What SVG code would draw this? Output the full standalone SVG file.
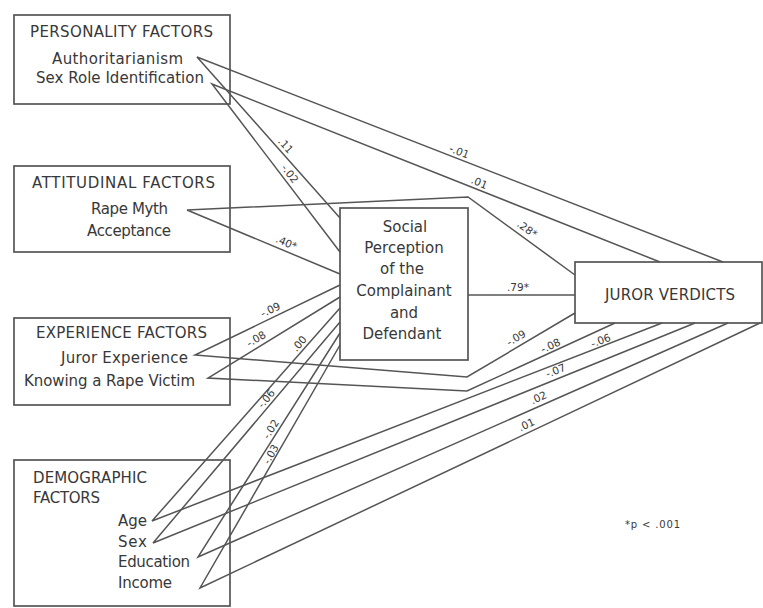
<svg xmlns="http://www.w3.org/2000/svg" width="763" height="608" viewBox="0 0 763 608">
<style>
.box{fill:none;stroke:#555;stroke-width:1.7}
.t{font-family:"DejaVu Sans","Liberation Sans",Arial,sans-serif;font-size:15px;fill:#383838}
.c{text-anchor:middle}
.ln{fill:none;stroke:#555;stroke-width:1.5;stroke-linejoin:miter}
.lb{font-family:"DejaVu Sans","Liberation Sans",Arial,sans-serif;font-size:10.5px;fill:#383838;text-anchor:middle}
</style>
<rect width="763" height="608" fill="#ffffff"/>

<g id="connectors">
<polyline class="ln" points="723,262 197,57 340,218"/>
<polyline class="ln" points="660,262 212,84 340,252"/>
<polyline class="ln" points="575,275 468,197 187,210 340,274"/>
<line class="ln" x1="468" y1="295" x2="575" y2="295"/>
<polyline class="ln" points="575,313 467,377 195,355 340,285"/>
<polyline class="ln" points="615,323 467,391 208,378 340,297"/>
<polyline class="ln" points="662,323 152,521 340,308"/>
<polyline class="ln" points="695,323 153,543 340,322"/>
<polyline class="ln" points="728,323 198,557 340,333"/>
<polyline class="ln" points="760,323 200,588 340,345"/>

<text class="lb" transform="translate(458,155) rotate(21)">-.01</text>
<text class="lb" transform="translate(478,186) rotate(22)">.01</text>
<text class="lb" transform="translate(283,148) rotate(48)">.11</text>
<text class="lb" transform="translate(287,176) rotate(53)">-.02</text>
<text class="lb" transform="translate(285,246) rotate(23)">.40*</text>
<text class="lb" transform="translate(525,232) rotate(36)">.28*</text>
<text class="lb" x="518" y="291">.79*</text>
<text class="lb" transform="translate(272,313) rotate(-26)">-.09</text>
<text class="lb" transform="translate(258,342) rotate(-31)">-.08</text>
<text class="lb" transform="translate(518,341) rotate(-31)">-.09</text>
<text class="lb" transform="translate(552,349) rotate(-25)">-.08</text>
<text class="lb" transform="translate(602,344) rotate(-21)">-.06</text>
<text class="lb" transform="translate(557,374) rotate(-22)">-.07</text>
<text class="lb" transform="translate(540,401) rotate(-24)">.02</text>
<text class="lb" transform="translate(528,428) rotate(-25)">.01</text>
<text class="lb" transform="translate(302,346) rotate(-49)">.00</text>
<text class="lb" transform="translate(269,401) rotate(-50)">-.06</text>
<text class="lb" transform="translate(274,431) rotate(-58)">-.02</text>
<text class="lb" transform="translate(274,456) rotate(-60)">-.03</text>
</g>

<g id="personality">
<rect class="box" x="14" y="15" width="216" height="89"/>
<text class="t" x="30" y="37" textLength="183">PERSONALITY FACTORS</text>
<text class="t" x="52" y="64" textLength="131">Authoritarianism</text>
<text class="t" x="36" y="83" textLength="168">Sex Role Identification</text>
</g>

<g id="attitudinal">
<rect class="box" x="14" y="166" width="216" height="86"/>
<text class="t" x="32" y="188" textLength="183">ATTITUDINAL FACTORS</text>
<text class="t" x="91" y="214" textLength="77">Rape Myth</text>
<text class="t" x="87" y="236" textLength="84">Acceptance</text>
</g>

<g id="experience">
<rect class="box" x="14" y="318" width="216" height="87"/>
<text class="t" x="36" y="338" textLength="171">EXPERIENCE FACTORS</text>
<text class="t" x="61" y="363" textLength="127">Juror Experience</text>
<text class="t" x="24" y="386" textLength="171">Knowing a Rape Victim</text>
</g>

<g id="demographic">
<rect class="box" x="14" y="460" width="216" height="146"/>
<text class="t" x="33" y="483" textLength="114">DEMOGRAPHIC</text>
<text class="t" x="33" y="503" textLength="67">FACTORS</text>
<text class="t" x="118" y="526" textLength="29">Age</text>
<text class="t" x="118" y="547" textLength="29">Sex</text>
<text class="t" x="118" y="567" textLength="72">Education</text>
<text class="t" x="118" y="588" textLength="54">Income</text>
</g>

<g id="social-perception">
<rect class="box" x="340" y="208" width="128" height="152"/>
<text class="t c" x="405" y="232">Social</text>
<text class="t c" x="404" y="253">Perception</text>
<text class="t c" x="402" y="274">of the</text>
<text class="t c" x="404" y="296">Complainant</text>
<text class="t c" x="404" y="318">and</text>
<text class="t c" x="402" y="339">Defendant</text>
</g>

<g id="juror-verdicts">
<rect class="box" x="575" y="262" width="187" height="61"/>
<text class="t" x="605" y="300" textLength="130">JUROR VERDICTS</text>
</g>

<text class="lb" x="625" y="528" style="font-size:10px;text-anchor:start" textLength="55">*p &lt; .001</text>
</svg>
